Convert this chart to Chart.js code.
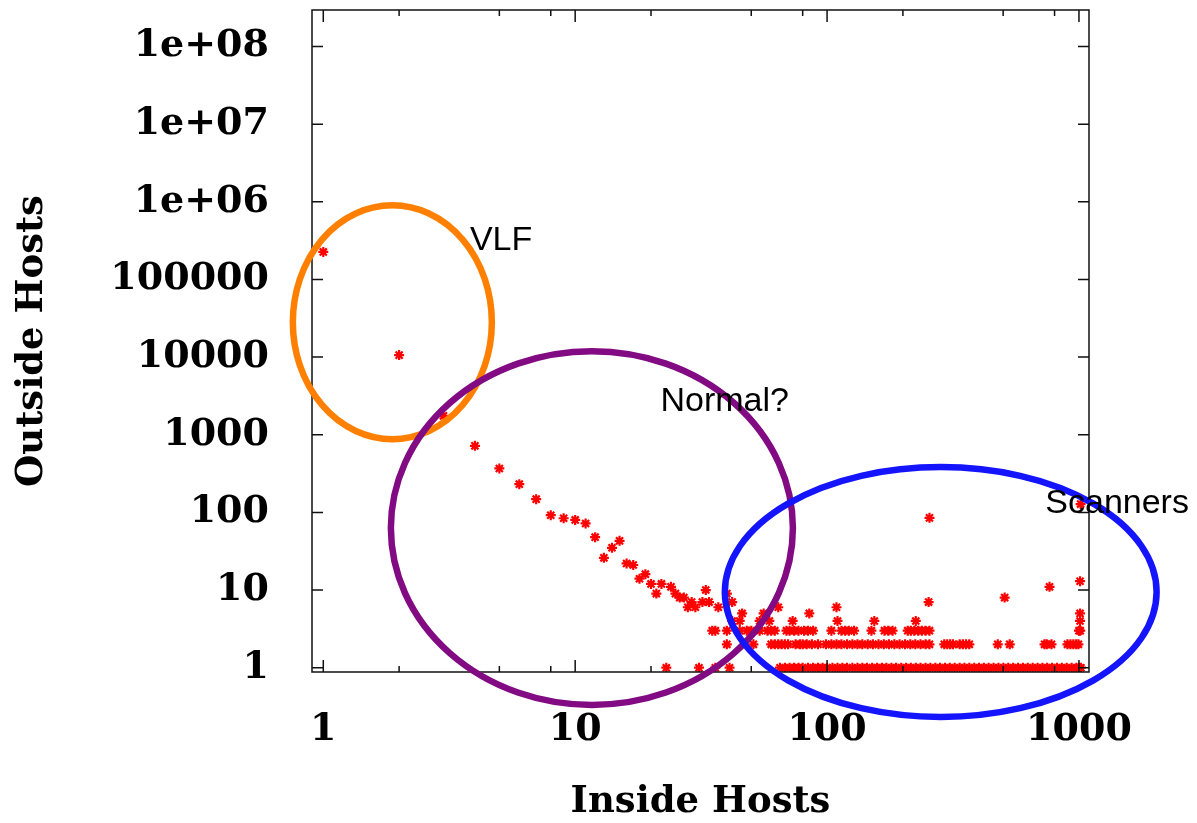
<!DOCTYPE html>
<html lang="en">
<head>
  <meta charset="UTF-8" />
  <title>Inside vs Outside Hosts</title>
  <script src="https://cdn.jsdelivr.net/npm/chart.js"></script>
  <style>
    html, body { margin: 0; padding: 0; background: #fff; }
    canvas { display: block; }
  </style>
</head>
<body>
  <canvas id="hostsChart" width="1197" height="823"></canvas>

  <script>
    // long tail: few inside hosts talking to many outside hosts
    const curveInside  = [1, 2, 3, 4, 5, 6, 7, 8, 9, 10, 11, 12, 13, 14, 15, 16, 17, 18, 19, 20, 21, 22, 24, 25, 26, 27, 28, 29, 30, 32, 33, 34, 37, 40, 42];
    const curveOutside = [226000, 10600, 1750, 720, 368, 231, 148, 92, 84, 80, 72, 48, 26, 35, 43, 22, 21, 14, 16, 12, 9, 12, 11, 9, 8, 8, 6, 7, 6, 7, 10, 7, 6, 9, 7];

    // odd points sitting above the flat rows
    const strayInside  = [64, 109, 253, 255, 507, 764, 1010, 1015];
    const strayOutside = [6, 6, 7, 85, 8, 11, 13, 128];

    // inside-host counts seen with exactly 1, 2, 3, 4, 5 outside hosts
    const rowLevels = [1, 2, 3, 4, 5];
    const insideWith1 = [23, 31, 36, 41, 65, 68, 71, 74, 77, 80, 84, 88, 92, 96, 100, 105, 110, 115, 120, 126, 132, 138, 144, 151, 158, 165, 172, 180, 188, 197, 206, 215, 225, 235, 246, 257, 269, 281, 294, 307, 321, 336, 351, 367, 384, 401, 419, 438, 458, 479, 501, 524, 548, 573, 599, 626, 655, 685, 716, 748, 782, 818, 855, 894, 935, 977, 1000, 1018];
    const insideWith2 = [40, 51, 60, 62, 64, 66, 68, 70, 75, 78, 80, 83, 87, 92, 99, 104, 109, 114, 120, 126, 132, 138, 145, 152, 160, 168, 176, 185, 194, 204, 214, 224, 235, 246, 255, 292, 300, 308, 316, 336, 346, 356, 367, 476, 531, 730, 745, 778, 900, 925, 950, 975, 995];
    const insideWith3 = [35, 36, 40, 45, 48, 50, 54, 58, 60, 62, 69, 71, 74, 77, 81, 84, 88, 104, 114, 118, 122, 128, 150, 169, 175, 182, 209, 215, 222, 230, 238, 246, 255, 1000, 1012];
    const insideWith4 = [42, 45, 54, 59, 73, 110, 154, 225, 1010];
    const insideWith5 = [46, 56, 85, 1010];

    const xTickValues = [1, 10, 100, 1000];
    const xTickLabels = ['1', '10', '100', '1000'];
    const xMinorValues = [2, 5, 8, 20, 50, 80, 200, 500, 800];
    const yTickValues = [1, 10, 100, 1000, 10000, 100000, 1e6, 1e7, 1e8];
    const yTickLabels = ['1', '10', '100', '1000', '10000', '100000', '1e+06', '1e+07', '1e+08'];

    const points = [];
    curveInside.forEach((x, i) => points.push({ x: x, y: curveOutside[i] }));
    strayInside.forEach((x, i) => points.push({ x: x, y: strayOutside[i] }));
    [insideWith1, insideWith2, insideWith3, insideWith4, insideWith5].forEach((row, i) => {
      row.forEach(x => points.push({ x: x, y: rowLevels[i] }));
    });

    // hand-drawn groupings: centre in data units, half-widths in decades
    const regions = [
      { name: 'VLF',      x: 1.88,  y: 28100, spanX: 0.395, spanY: 1.506, color: '#ff8000', labelX: 3.82, labelY: 237700 },
      { name: 'Normal?',  x: 11.65, y: 62.8,  spanX: 0.798, spanY: 2.278, color: '#820a82', labelX: 21.8, labelY: 2030 },
      { name: 'Scanners', x: 282.6, y: 9.43,  spanX: 0.857, spanY: 1.609, color: '#1414ff', labelX: 735,  labelY: 98.8 }
    ];

    const serif = { family: "'DejaVu Serif', serif", size: 38, weight: 'bold' };

    // box round the plot with inward tick marks on all four sides
    const frame = {
      id: 'frame',
      afterDatasetsDraw(chart) {
        const { ctx, chartArea: { left, right, top, bottom }, scales: { x, y } } = chart;
        ctx.save();
        ctx.strokeStyle = '#111';
        ctx.lineWidth = 1.5;
        ctx.strokeRect(left, top, right - left, bottom - top);
        ctx.beginPath();
        const xTick = (v, len) => {
          const px = x.getPixelForValue(v);
          ctx.moveTo(px, bottom); ctx.lineTo(px, bottom - len);
          ctx.moveTo(px, top); ctx.lineTo(px, top + len);
        };
        xTickValues.forEach(v => xTick(v, 12));
        xMinorValues.forEach(v => xTick(v, 6));
        yTickValues.forEach(v => {
          const py = y.getPixelForValue(v);
          ctx.moveTo(left, py); ctx.lineTo(left + 11, py);
          ctx.moveTo(right, py); ctx.lineTo(right - 11, py);
        });
        ctx.stroke();
        ctx.restore();
      }
    };

    const regionMarks = {
      id: 'regionMarks',
      afterDraw(chart) {
        const { ctx, scales: { x, y } } = chart;
        ctx.save();
        ctx.lineWidth = 6.5;
        regions.forEach(r => {
          const cx = x.getPixelForValue(r.x);
          const cy = y.getPixelForValue(r.y);
          const rx = x.getPixelForValue(r.x * Math.pow(10, r.spanX)) - cx;
          const ry = cy - y.getPixelForValue(r.y * Math.pow(10, r.spanY));
          ctx.strokeStyle = r.color;
          ctx.beginPath();
          ctx.ellipse(cx, cy, rx, ry, 0, 0, Math.PI * 2);
          ctx.stroke();
        });
        ctx.font = "34px 'Liberation Sans', Arial, sans-serif";
        ctx.fillStyle = '#000';
        ctx.textAlign = 'left';
        ctx.textBaseline = 'alphabetic';
        regions.forEach(r => {
          ctx.fillText(r.name, x.getPixelForValue(r.labelX), y.getPixelForValue(r.labelY));
        });
        ctx.restore();
      }
    };

    // fixed axis sizes, no extra room for overhanging labels
    const fitX = s => {
      s.height = 151;
      s.paddingLeft = s.paddingRight = s.paddingTop = s.paddingBottom = 0;
    };
    const fitY = s => {
      s.width = 312;
      s.paddingLeft = s.paddingRight = s.paddingTop = s.paddingBottom = 0;
    };

    new Chart(document.getElementById('hostsChart'), {
      type: 'scatter',
      data: {
        datasets: [{
          data: points,
          pointStyle: 'star',
          radius: 5,
          hoverRadius: 5,
          borderWidth: 2.2,
          borderColor: '#ff0000',
          backgroundColor: '#ff0000'
        }]
      },
      options: {
        responsive: false,
        animation: false,
        devicePixelRatio: 1,
        layout: { autoPadding: false, padding: { top: 10, right: 108, bottom: 0, left: 0 } },
        plugins: {
          legend: { display: false },
          tooltip: { enabled: false }
        },
        scales: {
          x: {
            type: 'logarithmic',
            min: 0.902,
            max: 1096,
            grid: { display: false },
            border: { display: false },
            afterBuildTicks: s => { s.ticks = xTickValues.map(v => ({ value: v })); },
            afterFit: fitX,
            ticks: {
              autoSkip: false,
              maxRotation: 0,
              padding: 27,
              color: '#000',
              font: serif,
              callback: (v, i) => xTickLabels[i]
            },
            title: {
              display: true,
              text: 'Inside Hosts',
              color: '#000',
              font: { family: "'DejaVu Serif', serif", size: 37, weight: 'bold', lineHeight: 1 },
              padding: { top: 0, bottom: 2 }
            }
          },
          y: {
            type: 'logarithmic',
            min: 0.88,
            max: 2.95e8,
            grid: { display: false },
            border: { display: false },
            afterBuildTicks: s => { s.ticks = yTickValues.map(v => ({ value: v })); },
            afterFit: fitY,
            ticks: {
              autoSkip: false,
              padding: 35,
              color: '#000',
              font: serif,
              callback: (v, i) => yTickLabels[i]
            },
            title: {
              display: true,
              text: 'Outside Hosts',
              color: '#000',
              font: { family: "'DejaVu Serif', serif", size: 37, weight: 'bold', lineHeight: 1 },
              padding: { top: 14, bottom: 0 }
            }
          }
        }
      },
      plugins: [frame, regionMarks]
    });
  </script>
</body>
</html>
